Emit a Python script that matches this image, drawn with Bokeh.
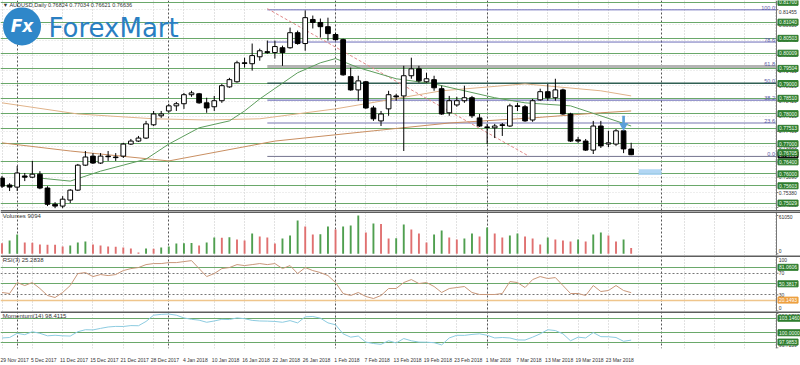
from bokeh.plotting import figure
from bokeh.models import Range1d, FixedTicker, Label, Span
from bokeh.layouts import column
from bokeh.embed import file_html
from bokeh.resources import INLINE
from bokeh.core.properties import value

# ---------------- data ----------------
bars = list(range(84))
opens = [.7586, .7563, .7556, .7593, .7589, .7599, .7553, .7499, .7493, .7513,
         .7546, .7629, .7659, .7636, .7659, .7656, .7659, .7699, .7709, .7719,
         .7763, .7793, .7809, .7826, .7833, .7863, .7866, .7836, .7823, .7843,
         .7889, .7906, .7969, .7966, .7989, .8006, .8003, .8019, .8019, .8069,
         .8033, .8113, .8103, .8089, .8063, .8046, .7923, .7879, .7906, .7819,
         .7776, .7816, .7859, .7859, .7926, .7949, .7906, .7913, .7883, .7803,
         .7829, .7843, .7853, .7786, .7756, .7753, .7763, .7759, .7826, .7823,
         .7779, .7846, .7873, .7853, .7879, .7799, .7713, .7709, .7679, .7759,
         .7699, .7699, .7743, .76824]
highs = [.7593, .7569, .7626, .7603, .7643, .7609, .7559, .7506, .7526, .7549,
         .7633, .7676, .7669, .7669, .7676, .7669, .7703, .7716, .7726, .7776,
         .7809, .7809, .7833, .7839, .7869, .7876, .7869, .7853, .7859, .7899,
         .7919, .7976, .7986, .8033, .8016, .8043, .8043, .8026, .8086, .8076,
         .8143, .8126, .8116, .8119, .8069, .8049, .7953, .7926, .7909, .7826,
         .7809, .7876, .7866, .7959, .7986, .7959, .7936, .7926, .7893, .7859,
         .7856, .7893, .7859, .7799, .7766, .7766, .7769, .7833, .7836, .7829,
         .7849, .7883, .7899, .7916, .7883, .7803, .7723, .7716, .7776, .7776,
         .7743, .7749, .7759, .77034]
lows = [.7553, .7543, .7543, .7576, .7586, .7549, .7493, .7486, .7486, .7503,
        .7543, .7626, .7633, .7633, .7643, .7643, .7653, .7696, .7706, .7716,
        .7759, .7786, .7803, .7809, .7816, .7856, .7833, .7803, .7809, .7836,
        .7886, .7903, .7953, .7943, .7976, .7999, .7983, .7959, .8016, .8029,
        .8009, .8083, .8053, .8043, .8043, .7926, .7876, .7843, .7816, .7776,
        .7759, .7793, .7843, .7676, .7916, .7903, .7903, .7876, .7796, .7793,
        .7823, .7836, .7786, .7756, .7699, .7719, .7726, .7756, .7809, .7773,
        .7773, .7843, .7843, .7843, .7796, .7706, .7703, .7676, .7666, .7686,
        .7689, .7693, .7669, .76621]
closes = [.7559, .7556, .7603, .7589, .7599, .7553, .7499, .7493, .7516, .7546,
          .7629, .7656, .7636, .7659, .7657, .7654, .7699, .7709, .7719, .7766,
          .7799, .7799, .7826, .7833, .7863, .7869, .7836, .7819, .7843, .7893,
          .7913, .7969, .7967, .7993, .8009, .8003, .8023, .8003, .8069, .8033,
          .8119, .8103, .8089, .8066, .8046, .7929, .7879, .7909, .7819, .7783,
          .7799, .7863, .7856, .7926, .7949, .7909, .7916, .7886, .7799, .7843,
          .7843, .7853, .7793, .7759, .7754, .7759, .7761, .7826, .7824, .7776,
          .7843, .7873, .7853, .7879, .7799, .7709, .7709, .7679, .7759, .7693,
          .7703, .7743, .7683, .76636]

volumes = [17000, 21200, 30760, 18010, 17800, 14820, 14500, 14300, 11640, 13230,
           18010, 19610, 14820, 13230, 11640, 11400, 10040, 8450, 2070, 8450,
           8000, 10040, 11640, 16420, 16900, 17200, 13230, 18010, 25980, 25500,
           26500, 22790, 21200, 32360, 27580, 25980, 16420, 24390, 29170, 53080,
           43520, 30760, 31000, 43520, 38730, 43520, 45110, 61050, 33950, 48300,
           47500, 24390, 24800, 46700, 38730, 32360, 18010, 30760, 37140, 25980,
           22790, 24390, 32360, 27580, 41920, 32360, 25980, 29170, 32360, 27580,
           24390, 14820, 25980, 22790, 21200, 19610, 22790, 19610, 30760, 33950,
           29170, 19610, 22790, 9094]

rsi = [34.3, 32.4, 52.8, 47.2, 52.8, 41.7, 28.7, 25.0, 34.3, 47.2,
       69.4, 71.3, 63.9, 67.6, 65.7, 67.6, 75.0, 78.7, 80.6, 86.1,
       88.0, 88.0, 89.8, 89.8, 91.7, 93.5, 78.7, 63.9, 69.4, 78.7,
       80.6, 86.1, 84.3, 86.1, 88.0, 86.1, 88.0, 78.7, 84.3, 69.4,
       80.6, 75.0, 71.3, 65.7, 52.8, 32.4, 28.7, 34.3, 26.9, 23.1,
       28.7, 41.7, 41.7, 52.8, 58.3, 50.9, 52.8, 45.4, 34.3, 41.7,
       43.5, 45.4, 34.3, 30.6, 30.6, 30.6, 32.4, 54.6, 52.8, 43.5,
       58.3, 63.9, 60.2, 62.0, 47.2, 32.4, 32.4, 28.7, 47.2, 36.1,
       38.0, 47.2, 38.0, 34.0]

momentum = [98.88, 98.98, 99.88, 99.59, 100.23, 99.88, 99.34, 99.46, 99.34, 99.29,
            100.23, 100.66, 100.62, 100.95, 101.25, 101.38, 101.36, 101.55, 101.52, 102.45,
            103.80, 103.98, 104.05, 103.80, 103.21, 102.91, 102.73, 102.27, 102.55, 102.91,
            102.86, 103.21, 103.04, 102.68, 102.55, 102.52, 102.45, 102.27, 102.63, 102.14,
            103.45, 103.52, 103.16, 102.14, 101.73, 99.77, 99.05, 99.29, 97.98, 97.68,
            97.50, 98.27, 97.80, 98.75, 98.27, 97.98, 97.96, 97.86, 97.38, 98.88,
            99.46, 99.44, 99.64, 99.77, 99.46, 98.88, 98.98, 98.88, 98.45, 98.43,
            99.05, 99.77, 100.66, 100.48, 99.77, 98.27, 99.05, 98.88, 100.05, 99.16,
            99.14, 98.98, 98.16, 98.41]

# moving averages (read at selected bars)
ma_fast_x = [5, 9, 13, 19, 22, 26, 30, 32, 34, 39, 42, 44, 47, 52, 57, 61, 65, 69, 75, 81, 83]
ma_fast_y = [.7586, .7576, .7609, .7649, .7699, .7753, .7776, .7809, .7849, .7936, .7969,
             .7983, .7953, .7916, .7899, .7876, .7853, .7836, .7826, .7776, .7759]
ma_mid_x = [0, 10, 20, 27, 34, 44, 58, 69, 79, 83]
ma_mid_y = [.7836, .7799, .7783, .7779, .7783, .7816, .7876, .7899, .7876, .7859]
ma_slow_x = [0, 9, 22, 36, 49, 59, 70, 79, 83]
ma_slow_y = [.7703, .7676, .7643, .7709, .7743, .7769, .7786, .7803, .7809]

# horizontal levels
green_levels = [0.81700, 0.81040, 0.80503, 0.80009, 0.79504, 0.79000, 0.78510,
                0.78000, 0.77513, 0.77000, 0.76400, 0.76000, 0.75603, 0.75029]
green_level_labels = ["0.81700", "0.81040", "0.80503", "0.80009", "0.79504", "0.79000", "0.78510",
                      "0.78000", "0.77513", "0.77000", "0.76400", "0.76000", "0.75603", "0.75029"]
extra_box_level = 0.76705
extra_box_label = "0.76705"
current_price = 0.76636
current_price_label = "0.76636"

fib_names = ["100.0", "78.6", "61.8", "50.0", "38.2", "23.6", "0.0"]
fib_levels = [0.8145, 0.8038, 0.7957, 0.7901, 0.7845, 0.7769, 0.7658]
fib_colors = ["#6b6bb8", "#6b6bb8", "#b4b4b4", "#2f5f52", "#5a5ab0", "#7676b0", "#74748e"]
fib_widths = [1, 1, 3, 1.5, 1, 1, 1]
fib_start_bar = 35
fib_trend_x = [35, 69.5]
fib_trend_y = [0.8149, 0.7659]

price_ticks = [0.74885, 0.75380, 0.75890, 0.76395, 0.76906, 0.77409, 0.77915,
               0.78420, 0.78925, 0.79430, 0.79935, 0.80440, 0.80950, 0.81455]
price_tick_labels = ["0.74885", "0.75380", "0.75890", "0.76395", "0.76906", "0.77409", "0.77915",
                     "0.78420", "0.78925", "0.79430", "0.79935", "0.80440", "0.80950", "0.81455"]
vol_ticks = [0, 61050]
vol_tick_labels = ["0", "61050"]
rsi_ticks = [0, 30, 70, 100]
rsi_tick_labels = ["0", "30", "70", "100"]
mom_ticks = [96.7159, 104.1767]
mom_tick_labels = ["96.7159", "104.1767"]

date_label_bars = [0, 4, 8, 12, 16, 20, 24, 28, 32, 36, 40, 44, 48, 52, 56, 60, 64, 68, 72, 76, 80]
date_labels = ["29 Nov 2017", "5 Dec 2017", "11 Dec 2017", "15 Dec 2017", "21 Dec 2017",
               "28 Dec 2017", "4 Jan 2018", "10 Jan 2018", "16 Jan 2018", "22 Jan 2018",
               "26 Jan 2018", "1 Feb 2018", "7 Feb 2018", "13 Feb 2018", "19 Feb 2018",
               "23 Feb 2018", "1 Mar 2018", "7 Mar 2018", "13 Mar 2018", "19 Mar 2018",
               "23 Mar 2018"]
grid_bars = [0, 4, 8, 12, 16, 20, 24, 28, 32, 36, 40, 44, 48, 52, 56, 60, 64, 68, 72,
             76, 80, 84, 90, 94, 98, 102]
month_bars = [2, 22, 44, 64, 87]

rsi_levels_green = [81.0606, 50.3817]
rsi_green_labels = ["81.0606", "50.3817"]
rsi_levels_dotted = [70, 30]
rsi_level_orange = 20.1493
rsi_orange_label = "20.1493"
mom_levels = [103.1460, 100.0000, 97.9853]
mom_level_labels = ["103.1460", "100.0000", "97.9853"]

signal_bar = 82
signal_top = 0.7793
signal_tip = 0.7760
note_box = (84, 87, 0.7596, 0.7615)

header = "\u25bc AUDUSD,Daily  0.76824 0.77034 0.76621 0.76636"

# ---------------- layout ----------------
FONT = "Liberation Sans"
W = 800
X0, X1, X2 = -0.2, 102.17, 105.34     # X1 = value-scale edge, X1..X2 = scale strip
xr = Range1d(X0, X2)
GREEN = "#6aa86a"
BOX_GREEN = "#2f7d2f"
FS = "6px"
FS_SCALE = "5px"


def make_fig(h, y0, y1, xaxis=False):
    p = figure(width=W, height=h, x_range=xr, y_range=Range1d(y0, y1),
               x_axis_location="below" if xaxis else None, y_axis_location=None,
               output_backend="svg", toolbar_location=None,
               min_border_left=0, min_border_right=0, min_border_top=0, min_border_bottom=0,
               background_fill_color="white", border_fill_color="white",
               outline_line_color=None)
    p.xgrid.ticker = FixedTicker(ticks=grid_bars)
    p.xgrid.grid_line_color = "#c4c4c4"
    p.xgrid.grid_line_dash = "1 2"
    p.ygrid.grid_line_color = None
    p.vspan(x=month_bars, line_color="#555555", line_dash="2 2", line_width=1)
    return p


def scale_strip(p, ticks, labels, offsets=None):
    """white strip right of the plotting area holding the value scale"""
    y0, y1 = p.y_range.start, p.y_range.end
    n = len(ticks)
    p.quad(left=[X1], right=[X2], bottom=[y0], top=[y1], fill_color="white", line_color=None)
    p.vspan(x=[X1], line_color="#777777", line_width=1)
    p.segment(x0=[X1] * n, x1=[X1 + 0.25] * n, y0=ticks, y1=ticks,
              line_color="#777777", line_width=1)
    p.text(x=[X1 + 0.3] * n, y=ticks, text=labels, y_offset=offsets or [0] * n,
           text_align="left", text_baseline="middle", text_font=value(FONT),
           text_font_size=FS_SCALE, text_color="#333333")


def box(p, y, text, bg, fg="#f0fff0"):
    p.add_layout(Label(x=X1, y=y, text=text, x_offset=1.5, text_align="left",
                       text_baseline="middle", text_font=FONT, text_font_size=FS_SCALE,
                       text_color=fg, background_fill_color=bg, border_line_color=bg,
                       padding=1))


def title(p, y, text, size=FS):
    p.add_layout(Label(x=0.1, y=y, text=text, y_offset=-1, text_align="left",
                       text_baseline="top", text_font=FONT, text_font_size=size,
                       text_color="#333333"))


def sep(p, loc):
    p.add_layout(Span(location=loc, dimension="width", line_color="#5e5e5e", line_width=3))


# ---- main price pane ----
PY0, PY1 = 0.7475, 0.8176
main = make_fig(211, PY0, PY1)
main.ygrid.grid_line_color = "#dddddd"
main.ygrid.grid_line_dash = "1 2"
main.ygrid.ticker = FixedTicker(ticks=price_ticks)

main.hspan(y=green_levels, line_color=GREEN, line_width=1)
for lvl, col, lw in zip(fib_levels, fib_colors, fib_widths):
    main.segment(x0=[fib_start_bar], x1=[X1], y0=[lvl], y1=[lvl], line_color=col, line_width=lw)
main.text(x=[X1 - 0.2] * len(fib_levels), y=fib_levels, text=fib_names, text_align="right",
          text_baseline="bottom", text_font=value(FONT), text_font_size="5.5px",
          text_color="#5a5aa6")
main.line(fib_trend_x, fib_trend_y, line_color="#e08a8a", line_dash="3 2", line_width=1)

main.line(ma_slow_x, ma_slow_y, line_color="#c98f62", line_width=1)
main.line(ma_mid_x, ma_mid_y, line_color="#e0b38a", line_width=1)
main.line(ma_fast_x, ma_fast_y, line_color="#5e9e5e", line_width=1)

main.segment(x0=bars, x1=bars, y0=lows, y1=highs, line_color="black", line_width=1)
up = [i for i in bars if closes[i] >= opens[i]]
dn = [i for i in bars if closes[i] < opens[i]]
main.vbar(x=up, width=0.62, bottom=[opens[i] for i in up], top=[closes[i] for i in up],
          fill_color="white", line_color="black", line_width=1)
main.vbar(x=dn, width=0.62, bottom=[closes[i] for i in dn], top=[opens[i] for i in dn],
          fill_color="black", line_color="black", line_width=1)

main.vbar(x=[signal_bar], width=0.35, bottom=[signal_tip], top=[signal_top],
          fill_color="#5b9fd8", line_color=None)
main.scatter(x=[signal_bar], y=[signal_tip], marker="inverted_triangle", size=9,
             fill_color="#5b9fd8", line_color=None)
main.quad(left=[note_box[0]], right=[note_box[1]], bottom=[note_box[2]], top=[note_box[3]],
          fill_color="#a9d2f3", line_color=None, fill_alpha=0.9)

scale_strip(main, price_ticks, price_tick_labels, [-2] + [0] * 12 + [2])
for lvl, txt in zip(green_levels, green_level_labels):
    box(main, lvl, txt, BOX_GREEN)
box(main, current_price, current_price_label, "#000000", "#ffffff")
box(main, extra_box_level, extra_box_label, BOX_GREEN)

title(main, PY1, header, "5.5px")
main.scatter(x=[2.64], y=[0.8090], size=38, fill_color="#2f87c9", line_color=None)
main.add_layout(Label(x=2.64, y=0.8090, text="Fx", text_align="center", text_baseline="middle",
                      text_font="DejaVu Sans", text_font_style="bold italic",
                      text_font_size="17px", text_color="white"))
main.add_layout(Label(x=6.13, y=0.8083, text="ForexMart", text_align="left",
                      text_baseline="middle", text_font="DejaVu Sans", text_font_size="26px",
                      text_color="#2a7fc2"))
sep(main, PY0)

# ---- volume pane ----
VY0, VY1 = -2700, 67400
vol = make_fig(44, VY0, VY1)
vol_colors = ["#e07070" if i == 0 or volumes[i] <= volumes[i - 1] else "#4f9f4f" for i in bars]
vol.vbar(x=bars, width=0.25, bottom=0, top=volumes, fill_color=vol_colors, line_color=None)
scale_strip(vol, vol_ticks, vol_tick_labels, [-3, 2])
title(vol, VY1, "Volumes 9094")
sep(vol, VY1)

# ---- RSI pane ----
RY0, RY1 = -1, 103
rsi_p = make_fig(56, RY0, RY1)
rsi_p.hspan(y=rsi_levels_green, line_color=GREEN, line_width=1)
rsi_p.hspan(y=rsi_levels_dotted, line_color="#777777", line_dash="2 2", line_width=1)
rsi_p.hspan(y=[rsi_level_orange], line_color="#efc58c", line_width=1.5)
rsi_p.line(bars, rsi, line_color="#c9977a", line_width=1)
scale_strip(rsi_p, rsi_ticks, rsi_tick_labels, [-3, 0, 0, 3])
for lvl, txt in zip(rsi_levels_green, rsi_green_labels):
    box(rsi_p, lvl, txt, BOX_GREEN)
box(rsi_p, rsi_level_orange, rsi_orange_label, "#eea040", "#ffffff")
title(rsi_p, RY1, "RSI(7) 25.2838")
sep(rsi_p, RY1)

# ---- momentum pane ----
MY0, MY1 = 96.6, 104.6
mom = make_fig(54, MY0, MY1, xaxis=True)
mom.hspan(y=mom_levels, line_color=GREEN, line_width=1)
mom.line(bars, momentum, line_color="#8ccbe0", line_width=1)
scale_strip(mom, mom_ticks, mom_tick_labels, [-3, 3])
for lvl, txt in zip(mom_levels, mom_level_labels):
    box(mom, lvl, txt, BOX_GREEN)
title(mom, MY1, "Momentum(14) 98.4115")
sep(mom, MY1)
xa = mom.xaxis[0]
label_ticks = [b + 1.5 for b in date_label_bars]
xa.ticker = FixedTicker(ticks=label_ticks)
xa.major_label_overrides = {t: s for t, s in zip(label_ticks, date_labels)}
xa.axis_line_color = None
xa.major_tick_line_color = None
xa.minor_tick_line_color = None
xa.major_label_text_font = FONT
xa.major_label_text_font_size = "5px"
xa.major_label_standoff = 2
xa.major_label_text_color = "#333333"

layout = column(main, vol, rsi_p, mom, spacing=0)
open("out.html", "w").write(file_html(layout, INLINE))
